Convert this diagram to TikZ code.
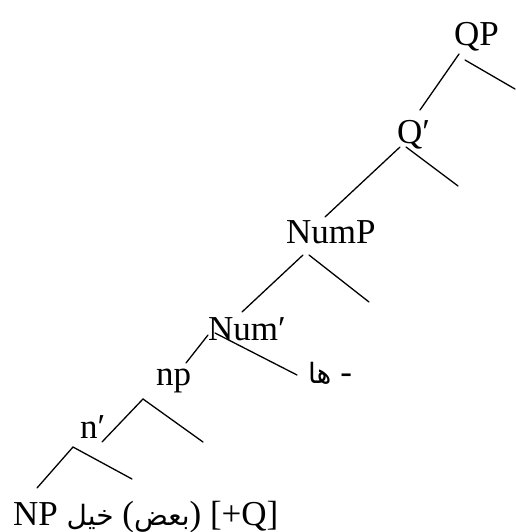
\documentclass[tikz,border=0pt]{standalone}
\usepackage{fontspec}
\setmainfont{Liberation Serif}
\newfontfamily\arabicfont[Script=Arabic]{DejaVu Sans}
\newcommand{\arabtxt}[1]{{\fontsize{28}{34}\arabicfont\beginR #1\endR}}
\TeXXeTstate=1
\begin{document}
\begin{tikzpicture}[x=1pt,y=-1pt,
  lbl/.style={inner sep=0pt, anchor=base west, font=\fontsize{35}{40}\selectfont},
  branch/.style={line width=1.3pt, line cap=round}]
\useasboundingbox (0,0) rectangle (515,532);
% labels
\node[lbl] (QP) at (454,46) {QP};
\node[lbl] (Qbar) at (397,143) {Q′};
\node[lbl] (NumP) at (286,243) {NumP};
\node[lbl] (Numbar) at (208,340) {Num′};
\node[lbl] (np) at (156,385) {np};
\node[lbl] (nbar) at (80,438) {n′};
\node[lbl] (bottom) at (13,525) {NP \arabtxt{خيل} (\arabtxt{بعض}) [+Q]};
\node[lbl] (ha) at (308,383) {\arabtxt{ها} -};
% branch points
\coordinate (qpL) at (459,54);   \coordinate (qpLe) at (420,110);
\coordinate (qpR) at (465,60);   \coordinate (qpRe) at (515,89);
\coordinate (qL) at (400,147);   \coordinate (qLe) at (325,217);
\coordinate (qR) at (406,147);   \coordinate (qRe) at (458,186);
\coordinate (numpL) at (303,255); \coordinate (numpLe) at (242,312);
\coordinate (numpR) at (309,255); \coordinate (numpRe) at (369,302);
\coordinate (numL) at (208,335); \coordinate (numLe) at (186,363);
\coordinate (numR) at (215,333); \coordinate (numRe) at (297,375);
\coordinate (npTop) at (143,399);
\coordinate (npLe) at (102,442); \coordinate (npRe) at (203,442);
\coordinate (nTop) at (73,447);
\coordinate (nLe) at (37,488);   \coordinate (nRe) at (132,479);
% branches
\draw[branch] (qpL) -- (qpLe);
\draw[branch] (qpR) -- (qpRe);
\draw[branch] (qL) -- (qLe);
\draw[branch] (qR) -- (qRe);
\draw[branch] (numpL) -- (numpLe);
\draw[branch] (numpR) -- (numpRe);
\draw[branch] (numL) -- (numLe);
\draw[branch] (numR) -- (numRe);
\draw[branch] (npLe) -- (npTop) -- (npRe);
\draw[branch] (nLe) -- (nTop) -- (nRe);
\end{tikzpicture}
\end{document}
